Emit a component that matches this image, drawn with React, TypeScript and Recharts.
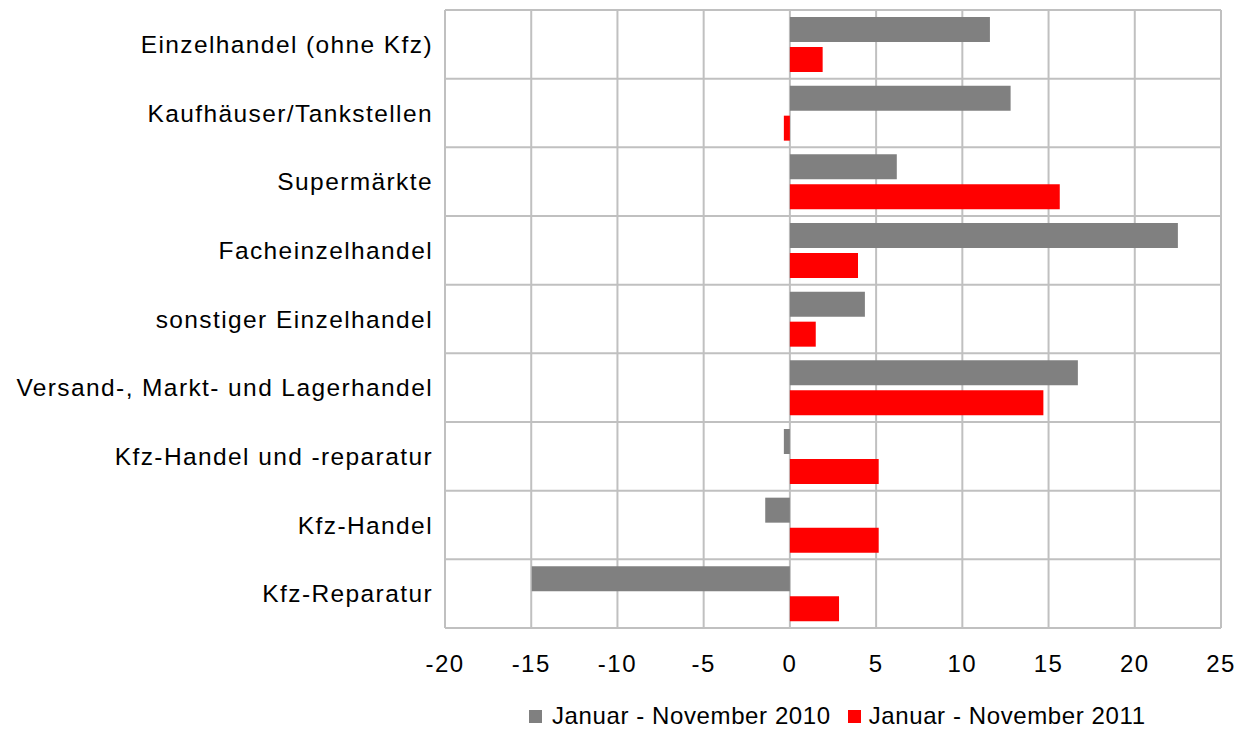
import React from 'react';
import { BarChart, Bar, XAxis, YAxis, CartesianGrid, Legend } from 'recharts';

const categories = [
  'Einzelhandel (ohne Kfz)',
  'Kaufhäuser/Tankstellen',
  'Supermärkte',
  'Facheinzelhandel',
  'sonstiger Einzelhandel',
  'Versand-, Markt- und Lagerhandel',
  'Kfz-Handel und -reparatur',
  'Kfz-Handel',
  'Kfz-Reparatur',
];

const values2010 = [11.6, 12.8, 6.2, 22.5, 4.35, 16.7, -0.35, -1.43, -14.97];
const values2011 = [1.9, -0.35, 15.65, 3.95, 1.5, 14.7, 5.15, 5.15, 2.85];

const xTicks = [-20, -15, -10, -5, 0, 5, 10, 15, 20, 25];

const seriesNames = ['Januar - November 2010', 'Januar - November 2011'];
const COLORS = ['#808080', '#ff0000'];

const data = categories.map((name, i) => ({
  name,
  y2010: values2010[i],
  y2011: values2011[i],
}));

const FONT = '"Liberation Sans", Arial, sans-serif';

function LegendContent() {
  return (
    <div
      style={{
        display: 'flex',
        alignItems: 'center',
        height: 24,
        paddingLeft: 521,
        fontFamily: FONT,
        fontSize: 24,
        letterSpacing: 0.6,
        color: '#000',
        whiteSpace: 'nowrap',
      }}
    >
      {seriesNames.map((s, i) => (
        <div key={s} style={{ display: 'flex', alignItems: 'center', marginLeft: i === 0 ? 0 : 17 }}>
          <span style={{ width: 13, height: 13, background: COLORS[i], display: 'inline-block' }} />
          <span style={{ marginLeft: i === 0 ? 10 : 8, lineHeight: '24px' }}>{s}</span>
        </div>
      ))}
    </div>
  );
}

export default function App() {
  return (
    <div style={{ fontFamily: FONT }}>
      <BarChart
        width={1243}
        height={721}
        data={data}
        layout="vertical"
        margin={{ top: 2, right: 30, bottom: 1, left: 0 }}
        barSize={25}
        barGap={5}
      >
        <CartesianGrid
          stroke="#c0c0c0"
          strokeWidth={2}
          horizontalCoordinatesGenerator={({ offset }: any) =>
            [...categories.map((_, i) => offset.top + (i * offset.height) / categories.length), offset.top + offset.height]
          }
        />
        <XAxis
          type="number"
          domain={[-20, 25]}
          ticks={xTicks}
          interval={0}
          axisLine={false}
          tickLine={false}
          tickSize={0}
          tickMargin={27}
          height={76}
          tick={{ fill: '#000', fontSize: 24, fontFamily: FONT, letterSpacing: 1.5 }}
        />
        <YAxis
          type="category"
          dataKey="name"
          width={437}
          interval={0}
          axisLine={false}
          tickLine={false}
          tickSize={0}
          tickMargin={12}
          tick={{ fill: '#000', fontSize: 24.5, fontFamily: FONT, letterSpacing: 1.4 }}
        />
        <Legend
          verticalAlign="bottom"
          content={<LegendContent />}
          wrapperStyle={{ left: 0, width: 1243 }}
        />
        <Bar dataKey="y2010" name={seriesNames[0]} fill={COLORS[0]} isAnimationActive={false} />
        <Bar dataKey="y2011" name={seriesNames[1]} fill={COLORS[1]} isAnimationActive={false} />
      </BarChart>
    </div>
  );
}
